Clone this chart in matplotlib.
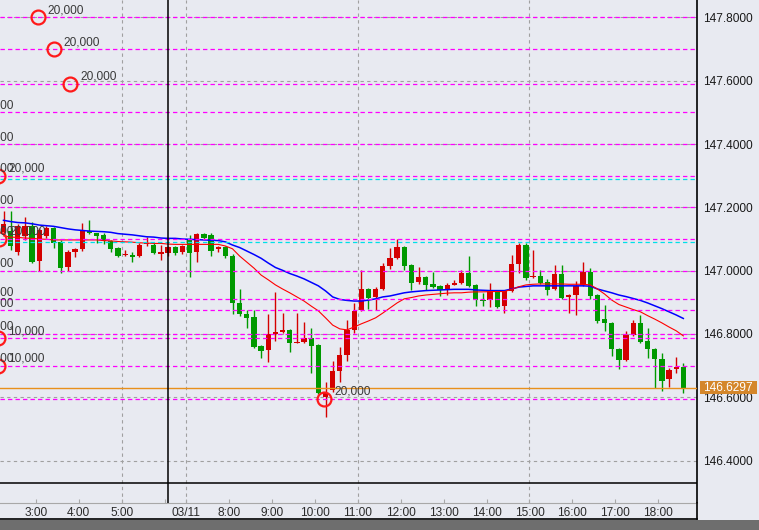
import numpy as np
import matplotlib
matplotlib.use("Agg")
import matplotlib.pyplot as plt
from matplotlib.lines import Line2D
from matplotlib.patches import Rectangle
from matplotlib.transforms import offset_copy, blended_transform_factory

plt.rcParams["font.family"] = ["Liberation Sans", "DejaVu Sans"]

# 10 minute candles, bar 0 = 3:00
FIRST_BAR = -5

opens = [147.122, 147.125, 147.059, 147.110, 147.141, 147.031, 147.110, 147.135, 147.091, 147.012,
         147.059, 147.069, 147.125, 147.119, 147.113, 147.094, 147.072, 147.050, 147.048, 147.046,
         147.083, 147.081, 147.054, 147.056, 147.075, 147.059, 147.100, 147.059, 147.116, 147.113,
         147.069, 147.075, 147.046, 146.898, 146.863, 146.854, 146.762, 146.750, 146.800, 146.806,
         146.813, 146.772, 146.775, 146.787, 146.765, 146.601, 146.623, 146.683, 146.734, 146.813,
         146.876, 146.942, 146.917, 146.942, 147.015, 147.040, 147.075, 147.018, 146.964, 146.980,
         146.958, 146.952, 146.939, 146.956, 146.961, 146.993, 146.955, 146.907, 146.907, 146.936,
         146.889, 146.936, 147.021, 147.081, 146.979, 146.983, 146.964, 146.942, 146.990, 146.917,
         146.923, 146.955, 146.996, 146.923, 146.847, 146.835, 146.753, 146.718, 146.797, 146.835,
         146.778, 146.753, 146.721, 146.658, 146.690, 146.696]
highs = [147.189, 147.189, 147.148, 147.170, 147.154, 147.135, 147.141, 147.138, 147.097, 147.065,
         147.072, 147.151, 147.160, 147.119, 147.119, 147.097, 147.075, 147.065, 147.059, 147.088,
         147.106, 147.088, 147.081, 147.078, 147.078, 147.081, 147.113, 147.119, 147.119, 147.119,
         147.078, 147.078, 147.053, 146.942, 146.876, 146.876, 146.765, 146.863, 146.933, 146.866,
         146.816, 146.866, 146.838, 146.819, 146.768, 146.648, 146.715, 146.759, 146.844, 146.898,
         147.002, 146.945, 146.949, 147.024, 147.072, 147.100, 147.078, 147.021, 147.012, 146.983,
         146.996, 146.955, 146.961, 146.971, 147.002, 147.046, 146.958, 146.930, 146.961, 146.939,
         146.939, 147.050, 147.088, 147.088, 147.065, 147.002, 146.974, 147.018, 147.018, 146.926,
         146.967, 147.027, 147.009, 146.926, 146.892, 146.838, 146.756, 146.810, 146.844, 146.860,
         146.819, 146.756, 146.740, 146.693, 146.727, 146.708]
lows = [147.119, 147.065, 147.050, 147.097, 147.024, 146.999, 147.103, 147.072, 146.993, 146.999,
        147.043, 147.062, 147.116, 147.088, 147.084, 147.059, 147.043, 147.046, 147.027, 147.043,
        147.078, 147.053, 147.034, 147.046, 147.050, 147.053, 146.980, 147.027, 147.100, 147.046,
        147.059, 147.040, 146.863, 146.857, 146.819, 146.756, 146.724, 146.712, 146.778, 146.803,
        146.743, 146.772, 146.772, 146.677, 146.611, 146.538, 146.617, 146.648, 146.715, 146.803,
        146.873, 146.879, 146.876, 146.939, 147.005, 147.037, 147.002, 146.939, 146.958, 146.939,
        146.945, 146.920, 146.923, 146.955, 146.958, 146.949, 146.889, 146.889, 146.885, 146.882,
        146.866, 146.933, 146.993, 146.971, 146.977, 146.958, 146.923, 146.939, 146.911, 146.866,
        146.860, 146.952, 146.911, 146.835, 146.810, 146.731, 146.690, 146.715, 146.794, 146.772,
        146.724, 146.630, 146.620, 146.633, 146.677, 146.614]
closes = [147.148, 147.078, 147.141, 147.141, 147.027, 147.129, 147.135, 147.088, 147.009, 147.059,
          147.069, 147.125, 147.119, 147.110, 147.094, 147.069, 147.046, 147.053, 147.043, 147.081,
          147.086, 147.056, 147.058, 147.075, 147.056, 147.078, 147.056, 147.116, 147.103, 147.062,
          147.075, 147.046, 146.898, 146.863, 146.851, 146.759, 146.746, 146.800, 146.806, 146.813,
          146.772, 146.775, 146.787, 146.762, 146.614, 146.614, 146.683, 146.734, 146.813, 146.873,
          146.942, 146.914, 146.942, 147.015, 147.040, 147.075, 147.015, 146.961, 146.980, 146.955,
          146.949, 146.939, 146.956, 146.961, 146.993, 146.952, 146.906, 146.903, 146.936, 146.885,
          146.936, 147.021, 147.081, 146.977, 146.983, 146.961, 146.939, 146.990, 146.914, 146.923,
          146.952, 146.996, 146.920, 146.841, 146.835, 146.753, 146.718, 146.797, 146.835, 146.775,
          146.753, 146.721, 146.652, 146.686, 146.696, 146.6297]

ma_short = [147.110, 147.106, 147.105, 147.103, 147.102, 147.100, 147.099, 147.097, 147.097, 147.097,
            147.097, 147.097, 147.097, 147.097, 147.095, 147.094, 147.092, 147.091, 147.090, 147.088,
            147.087, 147.086, 147.086, 147.084, 147.083, 147.083, 147.083, 147.083, 147.083, 147.083,
            147.083, 147.078, 147.069, 147.046, 147.027, 147.008, 146.986, 146.971, 146.955, 146.942,
            146.930, 146.917, 146.904, 146.888, 146.873, 146.851, 146.828, 146.816, 146.813, 146.822,
            146.832, 146.841, 146.851, 146.866, 146.882, 146.898, 146.911, 146.915, 146.920, 146.923,
            146.925, 146.927, 146.929, 146.930, 146.930, 146.932, 146.933, 146.933, 146.934, 146.934,
            146.934, 146.941, 146.949, 146.955, 146.957, 146.958, 146.958, 146.958, 146.958, 146.957,
            146.957, 146.957, 146.955, 146.942, 146.926, 146.907, 146.893, 146.885, 146.877, 146.870,
            146.858, 146.847, 146.835, 146.822, 146.810, 146.794]
ma_long = [147.159, 147.155, 147.152, 147.151, 147.148, 147.144, 147.142, 147.140, 147.136, 147.132,
           147.129, 147.127, 147.125, 147.124, 147.123, 147.121, 147.117, 147.115, 147.113, 147.110,
           147.107, 147.106, 147.103, 147.102, 147.102, 147.100, 147.099, 147.098, 147.097, 147.096,
           147.095, 147.091, 147.081, 147.073, 147.062, 147.051, 147.039, 147.024, 147.010, 147.001,
           146.991, 146.983, 146.974, 146.963, 146.952, 146.936, 146.917, 146.909, 146.906, 146.904,
           146.904, 146.907, 146.911, 146.917, 146.920, 146.925, 146.930, 146.933, 146.935, 146.937,
           146.938, 146.939, 146.940, 146.941, 146.941, 146.941, 146.939, 146.938, 146.937, 146.937,
           146.937, 146.942, 146.948, 146.950, 146.952, 146.952, 146.952, 146.952, 146.952, 146.952,
           146.952, 146.952, 146.951, 146.942, 146.936, 146.930, 146.923, 146.918, 146.912, 146.906,
           146.898, 146.889, 146.880, 146.870, 146.860, 146.849]

tick_bars = [0, 6, 12, 18, 21, 27, 33, 39, 45, 51, 57, 63, 69, 75, 81, 87]
tick_labels = ["3:00", "4:00", "5:00", "", "03/11", "8:00", "9:00", "10:00", "11:00",
               "12:00", "13:00", "14:00", "15:00", "16:00", "17:00", "18:00"]
vgrid_bars = [12, 21, 45, 69]
price_ticks = [146.4, 146.6, 146.8, 147.0, 147.2, 147.4, 147.6, 147.8]

magenta_levels = [147.80, 147.70, 147.59, 147.50, 147.40, 147.30, 147.20, 147.10, 147.00,
                  146.91, 146.875, 146.80, 146.787, 146.70, 146.595]
cyan_levels = [147.29, 147.091]
last_price = 146.6297

# executed orders (circle + lot size); several sit left of the visible window
order_bars = [-0.2, 2.0, 4.3,
              -10.1, -10.1, -10.1, -5.7, -10.1, -10.1, -5.6,
              -10.1, -10.1, -10.1, -10.1, -5.7, -10.1, -5.7,
              39.8]
order_prices = [147.80, 147.70, 147.59,
                147.50, 147.40, 147.30, 147.30, 147.20, 147.10, 147.10,
                147.00, 146.91, 146.875, 146.80, 146.787, 146.70, 146.70,
                146.595]
order_labels = ["20,000", "20,000", "20,000",
                "20,000", "20,000", "20,000", "20,000", "20,000", "20,000", "20,000",
                "20,000", "20,000", "20,000", "20,000", "10,000", "20,000", "10,000",
                "20,000"]

cursor_bar, cursor_price = 18, 146.329

BG = "#e8eaf1"
W, H = 759, 530
fig = plt.figure(figsize=(W / 100, H / 100), dpi=100, facecolor=BG)
ax = fig.add_axes([0, 27 / H, 697 / W, 503 / H], facecolor=BG)
ax.set_xlim(-5.49, 91.91)
ax.set_ylim(146.266, 147.855)

bars = np.arange(len(opens)) + FIRST_BAR
o, hi, lo, c = map(np.array, (opens, highs, lows, closes))
up = c >= o
colors = np.where(up, "#d40000", "#009900")

# grid
for p in price_ticks:
    ax.axhline(p, color="#a0a0a0", lw=0.8, ls=(0, (3, 3)), zorder=1)
for b in vgrid_bars:
    ax.axvline(b - 0.5, color="#a0a0a0", lw=0.8, ls=(0, (3, 3)), zorder=1)

# candles
ax.vlines(bars, lo, hi, colors=colors, lw=1.0, zorder=3)
body = np.maximum(np.abs(c - o), 0.003)
ax.bar(bars, body, bottom=np.minimum(o, c), width=0.74, color=colors, lw=0, zorder=4)

# moving averages
ax.plot(bars, ma_long, color="#0000ff", lw=1.1, zorder=5)
ax.plot(bars, ma_short, color="#ff0000", lw=0.8, zorder=5)

# order levels
for p in magenta_levels:
    ax.axhline(p, color="#ff00ff", lw=0.9, ls=(0, (3.5, 2.5)), zorder=6)
for p in cyan_levels:
    ax.axhline(p, color="#00e0e8", lw=0.9, ls=(0, (3.5, 2.5)), zorder=6)
ax.axhline(last_price, color="#e8901c", lw=1.0, zorder=6)

# executed orders
ax.plot(order_bars, order_prices, "o", ms=10, mfc="none", mec="#ff1a1a", mew=1.6, zorder=8)
lab_tr = offset_copy(ax.transData, fig=fig, x=10, y=7, units="dots")
for b, p, s in zip(order_bars, order_prices, order_labels):
    ax.text(b, p, s, transform=lab_tr, fontsize=8.6, color="#3a3a3a",
            ha="left", va="center", clip_on=True, zorder=9)

# crosshair
ax.axvline(cursor_bar, color="black", lw=1.1, zorder=10)
ax.axhline(cursor_price, color="black", lw=1.1, zorder=10)

# axes styling
for side in ("left", "top"):
    ax.spines[side].set_visible(False)
ax.spines["bottom"].set_color("#a8a8a8")
ax.spines["right"].set_color("black")
ax.spines["right"].set_linewidth(1.2)
ax.set_xticks([b - 0.5 for b in tick_bars])
ax.set_xticklabels(tick_labels)
ax.tick_params(axis="x", direction="in", length=3, color="#a8a8a8", pad=3,
               labelsize=8.6, labelcolor="#2a2a2a")
ax.yaxis.tick_right()
ax.set_yticks(price_ticks)
ax.set_yticklabels([f"{p:.4f}" for p in price_ticks])
ax.tick_params(axis="y", length=0, pad=4.5, labelsize=8.6, labelcolor="#1a1a1a")

# last price tag
tr = blended_transform_factory(ax.transAxes, ax.transData)
ax.add_patch(Rectangle((700 / 697, last_price - 0.0205), 57 / 697, 0.041, transform=tr,
                       facecolor="#d4862a", edgecolor="none", clip_on=False, zorder=20))
ax.text(703 / 697, last_price, f"{last_price:.4f}", transform=tr, color="white",
        fontsize=8.6, ha="left", va="center", clip_on=False, zorder=21)

# frame lines and bottom strip
fig.add_artist(Line2D([0, 697 / W], [11 / H, 11 / H], color="black", lw=1.2))
fig.add_artist(Line2D([697 / W, 697 / W], [11 / H, 27 / H], color="black", lw=1.2))
fig.add_artist(Rectangle((0, 0), 1, 10 / H, transform=fig.transFigure,
                         facecolor="#6e6e6e", edgecolor="none"))

fig.savefig("out.png", dpi=100, facecolor=BG)
